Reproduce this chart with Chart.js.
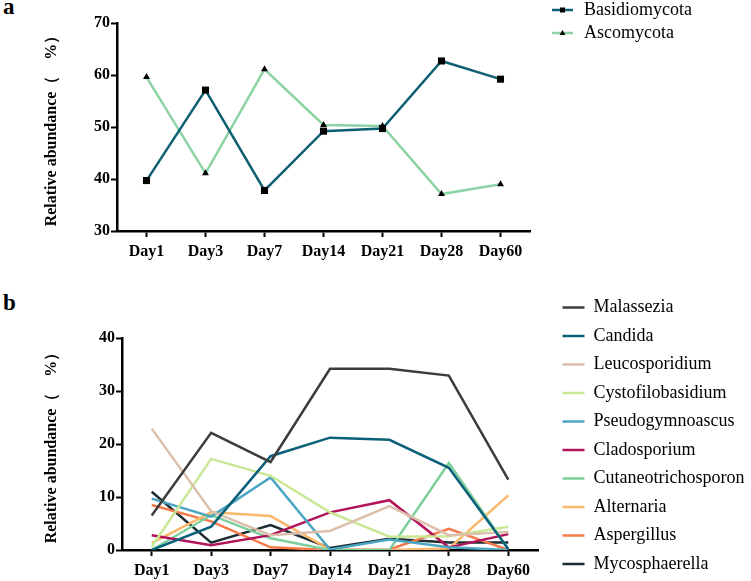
<!DOCTYPE html>
<html>
<head>
<meta charset="utf-8">
<script src="https://cdn.jsdelivr.net/npm/chart.js@4.4.1/dist/chart.umd.min.js"></script>
<style>
  body { margin: 0; background: #fff; width: 751px; height: 581px; overflow: hidden; position: relative; }
  canvas { position: absolute; left: 0; }
  #chartA { top: 0; }
  #chartB { top: 284px; }
  .panel { position: absolute; left: 3px; font: bold 23px "Times New Roman", "Liberation Serif", "DejaVu Serif", serif; line-height: 23px; }
</style>
</head>
<body>
<div class="panel" style="top:-5px">a</div>
<div class="panel" style="top:291px">b</div>
<canvas id="chartA" width="751" height="265"></canvas>
<canvas id="chartB" width="751" height="297"></canvas>
<script>
// x categories shared by both panels
const days = ['Day1', 'Day3', 'Day7', 'Day14', 'Day21', 'Day28', 'Day60'];

// panel a - phylum level
const basidiomycota = [39.7, 57.1, 37.8, 49.2, 49.7, 62.7, 59.2];
const ascomycota = [59.6, 41.1, 61.1, 50.4, 50.2, 37.1, 39.0];

// panel b - genus level
const genera = ['Malassezia', 'Candida', 'Leucosporidium', 'Cystofilobasidium', 'Pseudogymnoascus',
    'Cladosporium', 'Cutaneotrichosporon', 'Alternaria', 'Aspergillus', 'Mycosphaerella'];
const malassezia = [6.5, 22.1, 16.6, 34.2, 34.2, 32.9, 13.3];
const candida = [0, 4.4, 17.7, 21.2, 20.8, 15.5, 0.2];
const leucosporidium = [22.9, 7.3, 2.8, 3.6, 8.3, 2.8, 3.4];
const cystofilobasidium = [0.6, 17.2, 14.0, 7.1, 2.5, 2.6, 4.4];
const pseudogymnoascus = [9.7, 6.3, 13.7, 0.1, 2.0, 0.5, 0];
const cladosporium = [2.8, 0.9, 2.8, 7.1, 9.4, 0.5, 3.0];
const cutaneotrichosporon = [0, 6.6, 2.2, 0, 0, 16.4, 0.2];
const alternaria = [1.3, 7.1, 6.4, 0.1, 0, 0.3, 10.3];
const aspergillus = [8.5, 5.4, 0.5, 0, 0.1, 4.0, 0];
const mycosphaerella = [11.0, 1.4, 4.7, 0.4, 2.1, 1.4, 1.4];

const genusValues = [malassezia, candida, leucosporidium, cystofilobasidium, pseudogymnoascus,
    cladosporium, cutaneotrichosporon, alternaria, aspergillus, mycosphaerella];
const genusColors = ['#3c3c3c', '#0b6079', '#dcc0ac', '#c8e896', '#4ba6c2',
    '#b1145a', '#7fcf9c', '#fbb86a', '#f57b4b', '#1d2b33'];

const serif = '"Times New Roman", "Liberation Serif", "DejaVu Serif", serif';
const axisTitle = 'Relative abundance（\u3000%）';

// moves the legend box to a fixed spot after layout
const moveLegend = {
    id: 'moveLegend',
    afterLayout(chart, args, opts) {
        const lg = chart.legend;
        lg.left = opts.left;
        lg.right = chart.width;
        lg.width = lg.right - lg.left;
        lg.top = opts.top;
        lg.bottom = chart.height + 100;
        lg.height = lg.bottom - lg.top;
    }
};

function axisOptions(min, max, yWidth, xHeight) {
    const tickFont = { family: serif, size: 16, weight: 'bold' };
    const grid = { display: true, drawOnChartArea: false, tickLength: 6, tickWidth: 2, tickColor: '#000' };
    const border = { display: true, color: '#000', width: 2.5 };
    return {
        x: {
            offset: true,
            grid: grid,
            border: border,
            ticks: { color: '#000', font: tickFont, padding: 5, maxRotation: 0 },
            afterFit(s) { s.height = xHeight; }
        },
        y: {
            min: min,
            max: max,
            grid: grid,
            border: border,
            ticks: { color: '#000', font: tickFont, stepSize: 10, padding: 1 },
            title: {
                display: true,
                text: axisTitle,
                color: '#000',
                font: { family: serif, size: 16, weight: 'bold' },
                padding: { top: 42, bottom: 0 }
            },
            afterFit(s) { s.width = yWidth; }
        }
    };
}

// little line + marker pictures for the panel a legend
function legendIcon(color, marker) {
    const c = document.createElement('canvas');
    c.width = 25;
    c.height = 12;
    const g = c.getContext('2d');
    g.strokeStyle = color;
    g.lineWidth = 2.5;
    g.beginPath();
    g.moveTo(2, 6);
    g.lineTo(23, 6);
    g.stroke();
    g.fillStyle = '#000';
    if (marker === 'rect') {
        g.fillRect(10, 3.5, 5, 5);
    } else {
        g.beginPath();
        g.moveTo(12.5, 3);
        g.lineTo(15.5, 8);
        g.lineTo(9.5, 8);
        g.closePath();
        g.fill();
    }
    return c;
}
const iconsA = [legendIcon('#0f5f73', 'rect'), legendIcon('#8dd3a5', 'triangle')];

// Panel a
new Chart(document.getElementById('chartA'), {
    type: 'line',
    data: {
        labels: days,
        datasets: [
            {
                label: 'Basidiomycota',
                data: basidiomycota,
                borderColor: '#0f5f73',
                backgroundColor: '#000',
                borderWidth: 2.5,
                pointStyle: 'rect',
                pointRadius: 5,
                pointBorderWidth: 0,
                pointBackgroundColor: '#000',
                tension: 0
            },
            {
                label: 'Ascomycota',
                data: ascomycota,
                borderColor: '#8dd3a5',
                backgroundColor: '#000',
                borderWidth: 2.5,
                pointStyle: 'triangle',
                pointRadius: 4,
                pointBorderWidth: 0,
                pointBackgroundColor: '#000',
                tension: 0
            }
        ]
    },
    options: {
        responsive: false,
        animation: false,
        layout: { padding: { top: 23, right: 161, bottom: 0, left: 0 } },
        scales: axisOptions(30, 70, 117, 34),
        plugins: {
            tooltip: { enabled: false },
            moveLegend: { left: 545, top: -4 },
            legend: {
                position: 'right',
                align: 'start',
                maxWidth: 60,
                labels: {
                    color: '#000',
                    font: { family: serif, size: 18 },
                    padding: 5,
                    usePointStyle: true,
                    pointStyleWidth: 25,
                    generateLabels(chart) {
                        const items = Chart.defaults.plugins.legend.labels.generateLabels(chart);
                        items.forEach((it, i) => { it.pointStyle = iconsA[i]; });
                        return items;
                    }
                }
            }
        }
    },
    plugins: [moveLegend]
});

// Panel b
new Chart(document.getElementById('chartB'), {
    type: 'line',
    data: {
        labels: days,
        datasets: genera.map((name, i) => ({
            label: name,
            data: genusValues[i],
            borderColor: genusColors[i],
            backgroundColor: genusColors[i],
            borderWidth: 2.5,
            pointRadius: 0,
            tension: 0
        }))
    },
    options: {
        responsive: false,
        animation: false,
        layout: { padding: { top: 54, right: 153, bottom: 0, left: 0 } },
        scales: axisOptions(0, 40, 122, 31),
        plugins: {
            tooltip: { enabled: false },
            moveLegend: { left: 552, top: 4 },
            legend: {
                position: 'right',
                align: 'start',
                maxWidth: 60,
                labels: {
                    color: '#000',
                    font: { family: serif, size: 18 },
                    padding: 10.5,
                    usePointStyle: true,
                    pointStyle: 'line',
                    pointStyleWidth: 22
                }
            }
        }
    },
    plugins: [moveLegend]
});
</script>
</body>
</html>
